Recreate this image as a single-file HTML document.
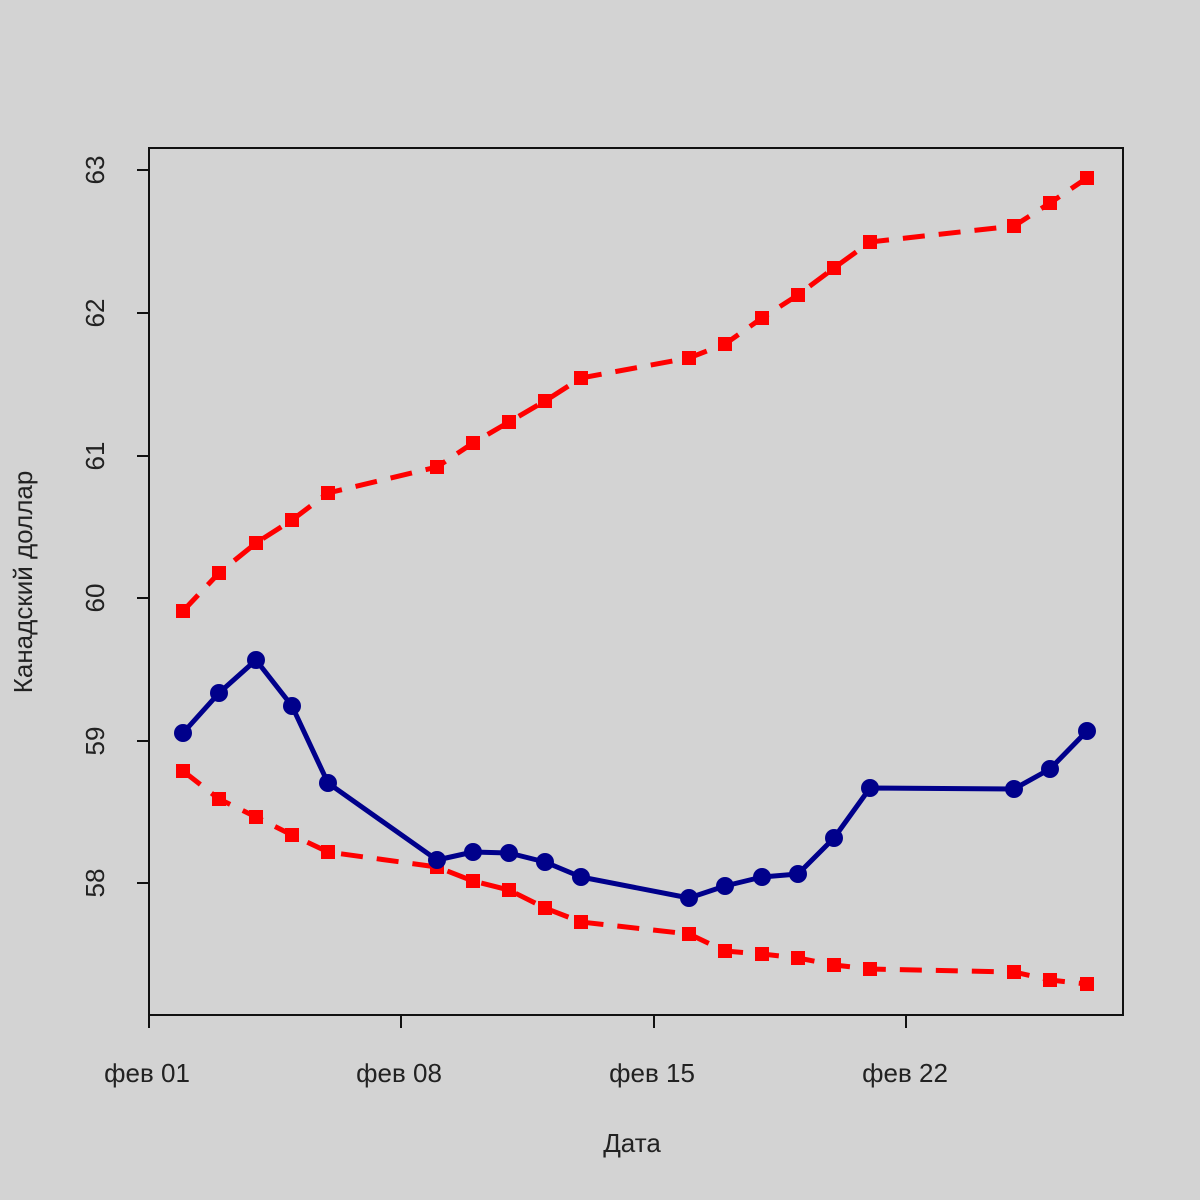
<!DOCTYPE html>
<html><head><meta charset="utf-8"><style>
body{margin:0;background:#d3d3d3}
svg{display:block}
text{font-family:"Liberation Sans","DejaVu Sans",sans-serif;fill:#222}
</style></head><body>
<svg width="1200" height="1200" viewBox="0 0 1200 1200">
<rect width="1200" height="1200" fill="#d3d3d3"/>
<rect x="149" y="148" width="974" height="867" fill="none" stroke="#111" stroke-width="2"/>
<g stroke="#111" stroke-width="2">
<line x1="149" y1="170" x2="137" y2="170"/><line x1="149" y1="313" x2="137" y2="313"/>
<line x1="149" y1="456" x2="137" y2="456"/><line x1="149" y1="598" x2="137" y2="598"/>
<line x1="149" y1="741" x2="137" y2="741"/><line x1="149" y1="883" x2="137" y2="883"/>
<line x1="149" y1="1015" x2="149" y2="1028"/><line x1="401" y1="1015" x2="401" y2="1028"/>
<line x1="654" y1="1015" x2="654" y2="1028"/><line x1="906" y1="1015" x2="906" y2="1028"/>
</g>
<g font-size="26" text-anchor="middle">
<text transform="translate(104,170) rotate(-90)">63</text>
<text transform="translate(104,313) rotate(-90)">62</text>
<text transform="translate(104,456) rotate(-90)">61</text>
<text transform="translate(104,598) rotate(-90)">60</text>
<text transform="translate(104,741) rotate(-90)">59</text>
<text transform="translate(104,883) rotate(-90)">58</text>
<text x="147" y="1082">фев 01</text><text x="399" y="1082">фев 08</text>
<text x="652" y="1082">фев 15</text><text x="905" y="1082">фев 22</text>
<text x="632" y="1152">Дата</text>
<text transform="translate(32,582) rotate(-90)">Канадский доллар</text>
</g>
<g fill="none" stroke="#f00" stroke-width="5" stroke-dasharray="22,14">
<polyline points="183,611 219,573 256,543 292,520 328,493 437,467 473,443 509,422 545,401 581,378 689,358 725,344 762,318 798,295 834,268 870,242 1014,226 1050,203 1087,178"/>
<polyline points="183,771 219,799 256,817 292,835 328,852 437,867 473,881 509,890 545,908 581,922 689,934 725,951 762,954 798,958 834,965 870,969 1014,972 1050,980 1087,984"/>
</g>
<g fill="#f00">
<rect x="176" y="604" width="14" height="14"/><rect x="212" y="566" width="14" height="14"/><rect x="249" y="536" width="14" height="14"/><rect x="285" y="513" width="14" height="14"/><rect x="321" y="486" width="14" height="14"/><rect x="430" y="460" width="14" height="14"/><rect x="466" y="436" width="14" height="14"/><rect x="502" y="415" width="14" height="14"/><rect x="538" y="394" width="14" height="14"/><rect x="574" y="371" width="14" height="14"/><rect x="682" y="351" width="14" height="14"/><rect x="718" y="337" width="14" height="14"/><rect x="755" y="311" width="14" height="14"/><rect x="791" y="288" width="14" height="14"/><rect x="827" y="261" width="14" height="14"/><rect x="863" y="235" width="14" height="14"/><rect x="1007" y="219" width="14" height="14"/><rect x="1043" y="196" width="14" height="14"/><rect x="1080" y="171" width="14" height="14"/>
<rect x="176" y="764" width="14" height="14"/><rect x="212" y="792" width="14" height="14"/><rect x="249" y="810" width="14" height="14"/><rect x="285" y="828" width="14" height="14"/><rect x="321" y="845" width="14" height="14"/><rect x="430" y="860" width="14" height="14"/><rect x="466" y="874" width="14" height="14"/><rect x="502" y="883" width="14" height="14"/><rect x="538" y="901" width="14" height="14"/><rect x="574" y="915" width="14" height="14"/><rect x="682" y="927" width="14" height="14"/><rect x="718" y="944" width="14" height="14"/><rect x="755" y="947" width="14" height="14"/><rect x="791" y="951" width="14" height="14"/><rect x="827" y="958" width="14" height="14"/><rect x="863" y="962" width="14" height="14"/><rect x="1007" y="965" width="14" height="14"/><rect x="1043" y="973" width="14" height="14"/><rect x="1080" y="977" width="14" height="14"/>
</g>
<polyline fill="none" stroke="#00008b" stroke-width="5" stroke-linejoin="round" points="183,733 219,693 256,660 292,706 328,783 437,860 473,852 509,853 545,862 581,877 689,898 725,886 762,877 798,874 834,838 870,788 1014,789 1050,769 1087,731"/>
<g fill="#00008b">
<circle cx="183" cy="733" r="9"/><circle cx="219" cy="693" r="9"/><circle cx="256" cy="660" r="9"/><circle cx="292" cy="706" r="9"/><circle cx="328" cy="783" r="9"/><circle cx="437" cy="860" r="9"/><circle cx="473" cy="852" r="9"/><circle cx="509" cy="853" r="9"/><circle cx="545" cy="862" r="9"/><circle cx="581" cy="877" r="9"/><circle cx="689" cy="898" r="9"/><circle cx="725" cy="886" r="9"/><circle cx="762" cy="877" r="9"/><circle cx="798" cy="874" r="9"/><circle cx="834" cy="838" r="9"/><circle cx="870" cy="788" r="9"/><circle cx="1014" cy="789" r="9"/><circle cx="1050" cy="769" r="9"/><circle cx="1087" cy="731" r="9"/>
</g>
</svg>
</body></html>
